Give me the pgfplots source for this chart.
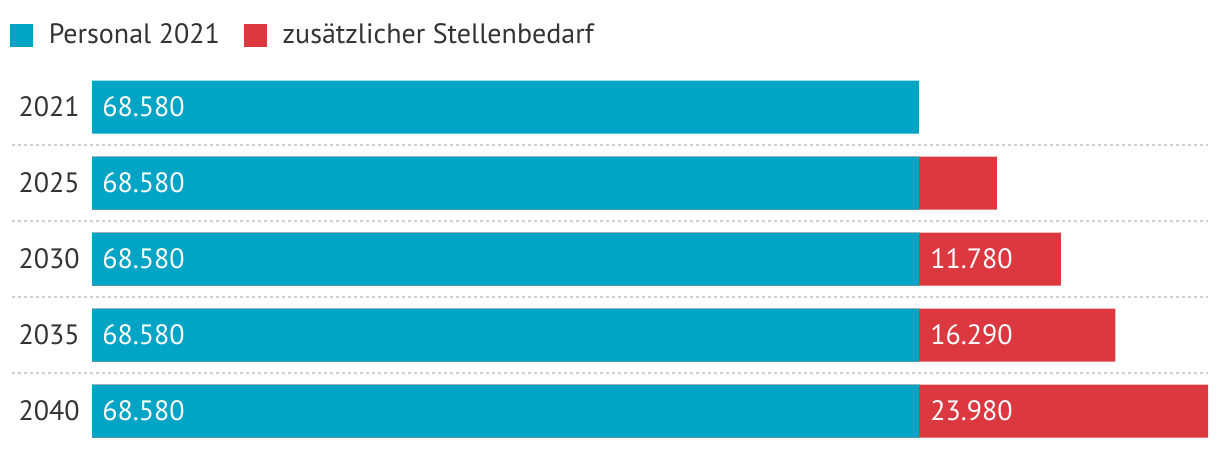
\documentclass[border=0pt]{standalone}
\usepackage{pgfplots}
\pgfplotsset{compat=1.18}
\usepackage{fontspec}
\setmainfont{PT Sans}
\definecolor{cy}{HTML}{00A4C4}
\definecolor{rd}{HTML}{DC3840}
\definecolor{tx}{HTML}{333333}
\definecolor{gr}{HTML}{D0D0D0}
\begin{document}
\begin{tikzpicture}
\begin{axis}[
  scale only axis, width=558pt, height=190pt,
  xmin=0, xmax=92560, ymin=-0.5, ymax=4.5,
  axis line style={draw=none},
  xtick=\empty,
  ytick={0,1,2,3,4},
  yticklabels={2040,2035,2030,2025,2021},
  major tick length=0pt,
  yticklabel style={font=\fontsize{14pt}{16pt}\selectfont, text=tx, inner sep=0pt, xshift=-6pt},
  bar width=26.5pt,
  clip=false,
  legend columns=-1,
  legend style={at={(axis description cs:0,1)}, anchor=west, xshift=-41pt, yshift=17pt,
    draw=none, fill=none, inner sep=0pt, outer sep=0pt,
    font=\fontsize{14pt}{16pt}\selectfont, text=tx,
    nodes={inner sep=0pt},
    /tikz/every odd column/.append style={column sep=8pt},
    /tikz/every even column/.append style={column sep=12pt}},
]
\addlegendimage{legend image code/.code={\fill[cy] (0pt,-5.5pt) rectangle (11pt,5.5pt);}}
\addlegendentry{Personal 2021}
\addlegendimage{legend image code/.code={\fill[rd] (0pt,-5.5pt) rectangle (11pt,5.5pt);}}
\addlegendentry{zusätzlicher Stellenbedarf}

\pgfplotsinvokeforeach{0.5,1.5,2.5,3.5}{
  \draw[gr, line width=1pt, dash pattern=on 1.5pt off 1.5pt] ([xshift=-40pt]axis cs:0,#1) -- (axis cs:92560,#1);
}

% total = Personal 2021 + additional (red drawn underneath)
\addplot[forget plot, xbar, bar shift=0pt, fill=rd, draw=none] coordinates {
  (92560,0) (84870,1) (80360,2) (75050,3)
};
% Personal 2021
\addplot[forget plot, xbar, bar shift=0pt, fill=cy, draw=none] coordinates {
  (68580,0) (68580,1) (68580,2) (68580,3) (68580,4)
};
% labels
\addplot[forget plot, draw=none, mark=none, nodes near coords, point meta=explicit symbolic,
  every node near coord/.append style={anchor=west, inner sep=0pt, xshift=5pt, text=white,
    font=\fontsize{14pt}{16pt}\selectfont}] coordinates {
  (0,0) [68.580] (0,1) [68.580] (0,2) [68.580] (0,3) [68.580] (0,4) [68.580]
};
\addplot[forget plot, draw=none, mark=none, nodes near coords, point meta=explicit symbolic,
  every node near coord/.append style={anchor=west, inner sep=0pt, xshift=5.5pt, text=white,
    font=\fontsize{14pt}{16pt}\selectfont}] coordinates {
  (68580,0) [23.980] (68580,1) [16.290] (68580,2) [11.780]
};
\end{axis}
\path ([xshift=-46pt,yshift=34.5pt]current axis.north west) rectangle ([xshift=6pt]current axis.south east);
\end{tikzpicture}
\end{document}
